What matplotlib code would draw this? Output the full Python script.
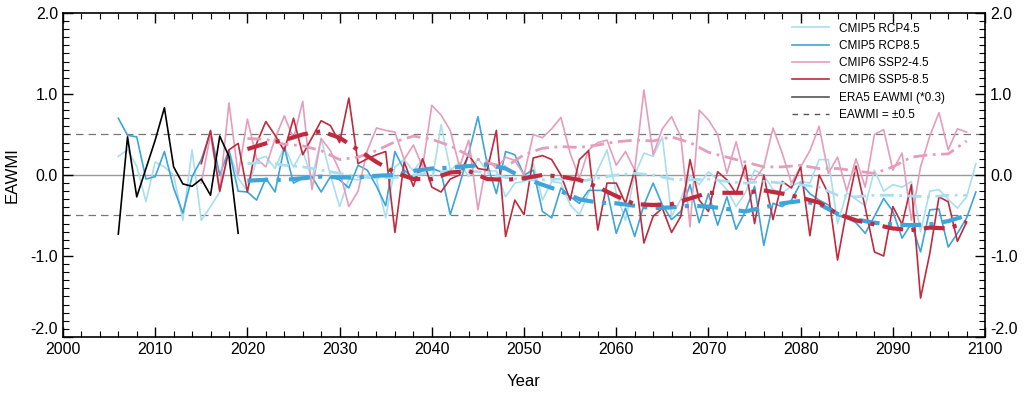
import numpy as np
import matplotlib
matplotlib.use('Agg')
import matplotlib.pyplot as plt
from matplotlib.ticker import MultipleLocator

plt.rcParams['font.family'] = ['Liberation Sans', 'DejaVu Sans']

# ── DADOS ─────────────────────────────────────────────────────────────────────

ERA5_YEARS = np.arange(2006, 2020)
ERA5 = [-0.73, 0.47, -0.27, 0.08, 0.43, 0.83, 0.10, -0.11, -0.14, -0.05,
        -0.25, 0.48, 0.23, -0.72]

CMIP5_YEARS = np.arange(2006, 2100)
RCP45 = [0.23, 0.31, 0.11, -0.33, 0.16, 0.10, 0.00, -0.56, 0.31, -0.56,
         -0.39, -0.21, 0.30, -0.04, -0.20, 0.19, 0.23, 0.08, 0.35, 0.10,
         0.30, -0.05, 0.45, 0.00, -0.39, -0.05, -0.06, 0.00, -0.05, -0.53,
         0.10, 0.19, 0.05, 0.20, -0.10, 0.62, 0.06, 0.15, -0.02, 0.20,
         0.05, 0.05, -0.27, -0.10, -0.08, 0.14, -0.31, -0.08, -0.10, -0.37,
         -0.49, -0.22, 0.06, 0.31, -0.22, -0.56, 0.00, 0.27, 0.23, 0.47,
         -0.51, -0.30, 0.00, -0.12, 0.04, -0.06, -0.18, -0.39, -0.22, 0.06,
         0.00, -0.18, -0.22, -0.14, -0.08, -0.10, 0.19, 0.19, -0.60, -0.22,
         -0.30, -0.38, 0.06, -0.20, -0.12, -0.15, -0.08, -0.70, -0.20, -0.18,
         -0.30, -0.41, -0.27, 0.14]
RCP85 = [0.70, 0.49, 0.47, -0.05, -0.02, 0.29, -0.16, -0.47, -0.02, 0.19,
         0.53, 0.00, 0.31, -0.20, -0.21, -0.31, -0.04, -0.21, 0.34, -0.10,
         -0.04, -0.02, -0.21, -0.02, -0.06, -0.16, 0.12, 0.06, -0.14, -0.38,
         0.29, 0.06, -0.04, 0.06, 0.08, 0.04, -0.49, -0.12, 0.27, 0.72,
         0.14, -0.23, 0.29, 0.25, 0.00, 0.06, -0.45, -0.53, -0.16, -0.27,
         -0.35, -0.19, -0.19, -0.19, -0.72, -0.41, -0.76, -0.37, -0.10, -0.37,
         -0.55, -0.45, -0.12, -0.59, -0.23, -0.62, -0.27, -0.67, -0.45, -0.14,
         -0.87, -0.35, -0.39, -0.31, -0.10, -0.23, -0.31, -0.37, -0.50, -0.53,
         -0.59, -0.72, -0.51, -0.29, -0.45, -0.78, -0.60, -0.95, -0.43, -0.42,
         -0.89, -0.72, -0.53, -0.21]

CMIP6_YEARS = np.arange(2015, 2099)
SSP245 = [-0.10, 0.50, -0.20, 0.89, 0.00, 0.69, 0.20, 0.10, 0.45, 0.73,
          0.45, 0.91, -0.18, 0.45, 0.30, 0.05, -0.39, -0.20, 0.30, 0.58,
          0.55, 0.53, 0.19, 0.37, 0.10, 0.86, 0.74, 0.55, 0.10, 0.43,
          -0.43, 0.19, 0.08, 0.22, 0.18, 0.00, 0.50, 0.46, 0.57, 0.71,
          0.27, -0.04, 0.31, 0.40, 0.43, 0.12, 0.29, 0.06, 1.05, 0.25,
          0.57, 0.72, 0.47, -0.64, 0.80, 0.68, 0.50, 0.02, 0.41, -0.04,
          -0.06, 0.10, 0.58, 0.27, -0.10, 0.10, 0.30, 0.60, 0.02, 0.22,
          -0.20, 0.20, -0.15, 0.50, 0.56, 0.06, 0.27, -0.56, 0.10, 0.48,
          0.77, 0.31, 0.57, 0.53]
SSP585 = [0.14, 0.55, -0.20, 0.31, 0.39, -0.21, 0.39, 0.66, 0.49, 0.30,
          0.70, 0.25, 0.46, 0.67, 0.61, 0.40, 0.95, 0.14, 0.20, 0.25,
          0.29, -0.71, 0.16, -0.14, 0.20, -0.15, -0.21, -0.05, 0.00, 0.25,
          0.08, 0.06, 0.55, -0.76, -0.31, -0.49, 0.21, 0.24, 0.19, 0.00,
          -0.31, 0.19, 0.30, -0.68, -0.10, -0.10, -0.35, 0.06, -0.84, -0.51,
          -0.41, -0.71, -0.51, 0.19, -0.31, -0.45, 0.04, -0.06, -0.23, 0.12,
          -0.60, 0.00, -0.55, -0.08, -0.16, 0.10, -0.75, 0.00, -0.23, -1.05,
          -0.43, 0.11, -0.40, -0.95, -1.00, -0.39, -0.61, -0.12, -1.52, -0.97,
          -0.27, -0.33, -0.82, -0.58]

# curvas suavizadas
SMOOTH_YEARS = np.arange(2020, 2099, 2)
RCP45_SMOOTH = [0.14, 0.16, 0.12, 0.10, 0.06, 0.02, -0.02, -0.04, -0.03, 0.00,
                0.03, 0.05, 0.05, 0.03, -0.03, -0.06, -0.06, -0.05, -0.08, -0.04,
                0.00, 0.02, 0.00, -0.05, -0.06, -0.05, -0.08, -0.10, -0.08, -0.10,
                -0.12, -0.15, -0.25, -0.27, -0.25, -0.25, -0.26, -0.27, -0.25, -0.25]
RCP85_SMOOTH = [-0.07, -0.06, -0.06, -0.04, -0.02, -0.03, -0.03, -0.01, 0.00, 0.05,
                0.08, 0.09, 0.11, 0.13, 0.08, -0.04, -0.12, -0.20, -0.30, -0.34,
                -0.35, -0.38, -0.41, -0.40, -0.38, -0.39, -0.42, -0.45, -0.40, -0.35,
                -0.32, -0.36, -0.48, -0.55, -0.59, -0.61, -0.62, -0.61, -0.57, -0.50]
SSP245_SMOOTH = [0.45, 0.44, 0.38, 0.36, 0.30, 0.19, 0.22, 0.30, 0.41, 0.48,
                 0.44, 0.36, 0.24, 0.15, 0.10, 0.25, 0.33, 0.35, 0.34, 0.37,
                 0.41, 0.43, 0.42, 0.47, 0.40, 0.28, 0.22, 0.16, 0.10, 0.10,
                 0.12, 0.08, 0.08, 0.05, 0.02, 0.10, 0.22, 0.25, 0.26, 0.42]
SSP585_SMOOTH = [0.32, 0.39, 0.43, 0.50, 0.54, 0.46, 0.31, 0.16, 0.03, -0.05,
                 -0.05, 0.03, 0.05, -0.05, -0.06, -0.04, 0.00, -0.02, -0.06, -0.15,
                 -0.26, -0.36, -0.37, -0.36, -0.29, -0.22, -0.22, -0.22, -0.19, -0.23,
                 -0.28, -0.34, -0.48, -0.56, -0.61, -0.66, -0.68, -0.65, -0.66, -0.58]

C_RCP45 = '#a9def0'
C_RCP85 = '#3da5d9'
C_SSP245 = '#e59dbb'
C_SSP585 = '#c02a3e'


def main() -> None:
    fig = plt.figure(figsize=(10.24, 3.93), dpi=100)
    ax = fig.add_axes([0.0615, 0.1425, 0.9005, 0.8245])

    ax.axhline(0, color='#999999', linewidth=1.0, zorder=1)
    ax.axhline(0.5, color='#777777', linewidth=0.9, linestyle=(0, (6, 4)), zorder=1)
    ax.axhline(-0.5, color='#777777', linewidth=0.9, linestyle=(0, (6, 4)), zorder=1)

    ax.plot(CMIP5_YEARS, RCP45, color=C_RCP45, linewidth=1.2, label='CMIP5 RCP4.5')
    ax.plot(CMIP5_YEARS, RCP85, color=C_RCP85, linewidth=1.2, label='CMIP5 RCP8.5')
    ax.plot(CMIP6_YEARS, SSP245, color=C_SSP245, linewidth=1.2, label='CMIP6 SSP2-4.5')
    ax.plot(CMIP6_YEARS, SSP585, color=C_SSP585, linewidth=1.2, label='CMIP6 SSP5-8.5')
    ax.plot(ERA5_YEARS, ERA5, color='black', linewidth=1.2)

    dd = (0, (5, 2, 1, 2))
    ax.plot(SMOOTH_YEARS, RCP45_SMOOTH, color=C_RCP45, linewidth=2.0, linestyle=dd)
    ax.plot(SMOOTH_YEARS, SSP245_SMOOTH, color=C_SSP245, linewidth=2.0, linestyle=dd)
    ax.plot(SMOOTH_YEARS, RCP85_SMOOTH, color=C_RCP85, linewidth=3.0, linestyle=dd)
    ax.plot(SMOOTH_YEARS, SSP585_SMOOTH, color=C_SSP585, linewidth=3.0, linestyle=dd)

    # entradas extras da legenda
    ax.plot([], [], color='#555555', linewidth=1.2, label='ERA5 EAWMI (*0.3)')
    ax.plot([], [], color='#555555', linewidth=1.0, linestyle=(0, (4, 4)),
            label='EAWMI = \u00b10.5')

    ax.set_xlim(2000, 2100)
    ax.set_ylim(-2, 2)
    ax.xaxis.set_major_locator(MultipleLocator(10))
    ax.xaxis.set_minor_locator(MultipleLocator(2))
    ax.yaxis.set_major_locator(MultipleLocator(1))
    ax.yaxis.set_minor_locator(MultipleLocator(0.1))
    ax.yaxis.set_major_formatter(plt.FormatStrFormatter('%.1f'))
    ax.tick_params(which='both', direction='in', top=True, right=True,
                   labelright=True, labelsize=11.5)
    ax.tick_params(which='major', length=7, width=1)
    ax.tick_params(which='minor', length=4, width=0.8)
    for s in ax.spines.values():
        s.set_linewidth(1.2)

    # o rótulo -2.0 fica um pouco acima do eixo, como no original
    fig.canvas.draw()
    for tick in ax.yaxis.get_major_ticks():
        if abs(tick.get_loc() + 2) < 1e-6:
            tick.label1.set_va('bottom')
            tick.label2.set_va('bottom')

    ax.set_xlabel('Year', fontsize=12, labelpad=12)
    ax.set_ylabel('EAWMI', fontsize=12, labelpad=8)

    ax.legend(loc='upper left', bbox_to_anchor=(0.785, 0.985), frameon=False,
              fontsize=8.5, handlelength=3.2, labelspacing=0.45, borderaxespad=0)

    plt.savefig('out.png', dpi=100)


if __name__ == "__main__":
    main()
